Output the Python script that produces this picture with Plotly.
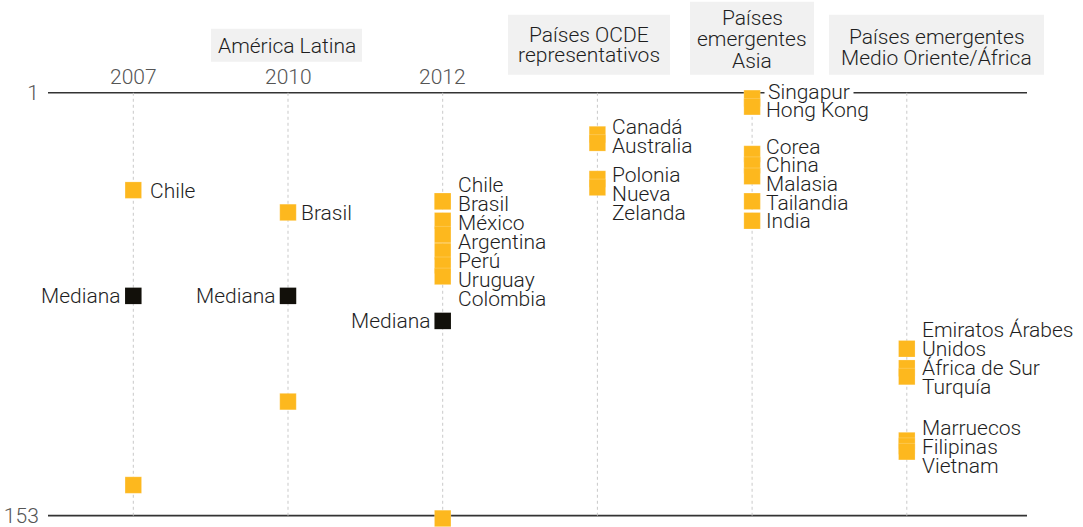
import plotly.graph_objects as go

# ---------------- data ----------------
columns = ["2007", "2010", "2012", "OCDE", "Asia", "MEA"]

ranks_2007 = [36, 142]
ranks_2010 = [44, 112]
ranks_2012 = [40, 40, 47, 52, 58, 63, 67, 154]
ranks_ocde = [16, 19, 32, 35]
ranks_asia = [3, 6, 23, 27, 31, 40, 47]
ranks_mea = [93, 100, 103, 126, 128, 130]

median_ranks = [74, 74, 83]  # 2007, 2010, 2012

labels_2007 = [["Chile"]]
labels_2010 = [["Brasil"]]
labels_2012 = [["Chile", "Brasil", "México", "Argentina", "Perú", "Uruguay", "Colombia"]]
labels_ocde = [["Canadá", "Australia"], ["Polonia", "Nueva", "Zelanda"]]
labels_asia = [["Singapur", "Hong Kong"], ["Corea", "China", "Malasia"], ["Tailandia", "India"]]
labels_mea = [["Emiratos Árabes", "Unidos", "África de Sur", "Turquía"], ["Marruecos", "Filipinas", "Vietnam"]]

year_labels = ["2007", "2010", "2012"]
group_headers = ["América Latina", "Países OCDE<br>representativos",
                 "Países<br>emergentes<br>Asia", "Países emergentes<br>Medio Oriente/África"]
rank_min, rank_max = 1, 153

# ---------------- layout constants (pixels) ----------------
W, H = 1083, 527
L, R = 48, 56
y_rank1_px, y_rankmax_px = 93.0, 516.0
px_per_rank = (y_rankmax_px - y_rank1_px) / (rank_max - rank_min)
axis_lo, axis_hi = 0.0, 156.0   # padded axis range so edge marks stay visible
T = y_rank1_px - (rank_min - axis_lo) * px_per_rank
B = H - (y_rank1_px + (axis_hi - rank_min) * px_per_rank)
plot_h = H - T - B
col0_px, col_step_px = 133.3, 154.7

ORANGE = "#FDB81E"
BLACK = "#12100a"
FONT = "Roboto"
FS = 21


def px_to_paper_x(px):
    return (px - L) / (W - L - R)


def py_to_paper_y(py):
    return (H - B - py) / plot_h


fig = go.Figure()

orange_sets = [ranks_2007, ranks_2010, ranks_2012, ranks_ocde, ranks_asia, ranks_mea]
for i, rs in enumerate(orange_sets):
    fig.add_trace(go.Scatter(
        x=[i] * len(rs), y=rs, mode="markers",
        marker=dict(symbol="square", size=16.5, color=ORANGE,
                    line=dict(color="rgba(255,255,255,0.35)", width=0.6)),
        cliponaxis=False, hoverinfo="skip", showlegend=False))

fig.add_trace(go.Scatter(
    x=list(range(len(median_ranks))), y=median_ranks, mode="markers",
    marker=dict(symbol="square", size=16.5, color=BLACK, line=dict(width=0)),
    cliponaxis=False, hoverinfo="skip", showlegend=False))

annotations = []
txt_font = dict(family=FONT, size=FS, color="#1e1e1e", weight=300)
gray_font = dict(family=FONT, size=FS, color="#555555", weight=300)

# label groups: (column index, groups, start pixel y for each group, x offset, step)
label_layout = [
    (0, labels_2007, [191], 15, 19),
    (1, labels_2010, [213], 11, 19),
    (2, labels_2012, [185], 13, 19),
    (3, labels_ocde, [127, 175], 13, 19),
    (4, labels_asia, [92, 147, 203], 12, 18.5),
    (5, labels_mea, [330, 428], 13, 19.2),
]
for ci, groups, starts, xoff, step in label_layout:
    for g, y0 in zip(groups, starts):
        for k, line in enumerate(g):
            a = dict(x=ci, y=py_to_paper_y(y0 + k * step), yref="paper", text=line,
                     showarrow=False, xanchor="left", yanchor="middle", xshift=xoff,
                     font=txt_font)
            if line == "Singapur":
                a.update(bgcolor="white", borderpad=3)
            annotations.append(a)

for i, m in enumerate(median_ranks):
    annotations.append(dict(x=i, y=m, text="Mediana", showarrow=False, xanchor="right",
                            yanchor="middle", xshift=-11, font=txt_font))

# year labels above the top line
for i, yl in enumerate(year_labels):
    annotations.append(dict(x=i, y=py_to_paper_y(77), yref="paper", text=yl, showarrow=False,
                            xanchor="center", yanchor="middle", font=gray_font))

# header boxes (pixel boxes) and their text lines
header_boxes = [
    (211, 362, 29, 62, [46]),
    (508, 670, 15, 75, [35, 55]),
    (690, 814, 2, 75, [18, 39.5, 61]),
    (829, 1044, 15, 75, [37, 58]),
]
shapes = []
for (x0, x1, y0, y1, line_ys), htxt in zip(header_boxes, group_headers):
    shapes.append(dict(type="rect", xref="paper", yref="paper",
                       x0=px_to_paper_x(x0), x1=px_to_paper_x(x1),
                       y0=py_to_paper_y(y1), y1=py_to_paper_y(y0),
                       fillcolor="#f1f1f1", line=dict(width=0), layer="below"))
    for ly, ln in zip(line_ys, htxt.split("<br>")):
        annotations.append(dict(x=px_to_paper_x((x0 + x1) / 2), y=py_to_paper_y(ly),
                                xref="paper", yref="paper", text=ln, showarrow=False,
                                xanchor="center", yanchor="middle", font=txt_font))

# top & bottom rank lines
for r in (rank_min, rank_max):
    shapes.append(dict(type="line", xref="paper", yref="y", x0=0, x1=1, y0=r, y1=r,
                       line=dict(color="#333333", width=1.6), layer="below"))

# dotted column guides between the rank lines
for i in range(len(columns)):
    shapes.append(dict(type="line", xref="x", yref="y", x0=i, x1=i, y0=rank_min, y1=rank_max,
                       line=dict(color="#c9c9c9", width=1, dash="dot"), layer="below"))

fig.update_layout(
    width=W, height=H, margin=dict(l=L, r=R, t=T, b=B, autoexpand=False),
    paper_bgcolor="white", plot_bgcolor="white",
    shapes=shapes, annotations=annotations,
    xaxis=dict(range=[(L - col0_px) / col_step_px, (W - R - col0_px) / col_step_px],
               showticklabels=False, showgrid=False, automargin=False,
               zeroline=False, showline=False, fixedrange=True),
    yaxis=dict(range=[axis_hi, axis_lo], tickvals=[rank_min, rank_max],
               ticktext=[str(rank_min), str(rank_max)], showgrid=False, zeroline=False,
               showline=False, ticks="outside", ticklen=4, tickcolor="rgba(0,0,0,0)",
               tickfont=gray_font, ticklabeloverflow="allow", automargin=False,
               fixedrange=True),
    font=dict(family=FONT),
)

fig.write_html("out.html", config={"displayModeBar": False},
               post_script="document.body.style.margin='0';document.body.style.padding='0';")
